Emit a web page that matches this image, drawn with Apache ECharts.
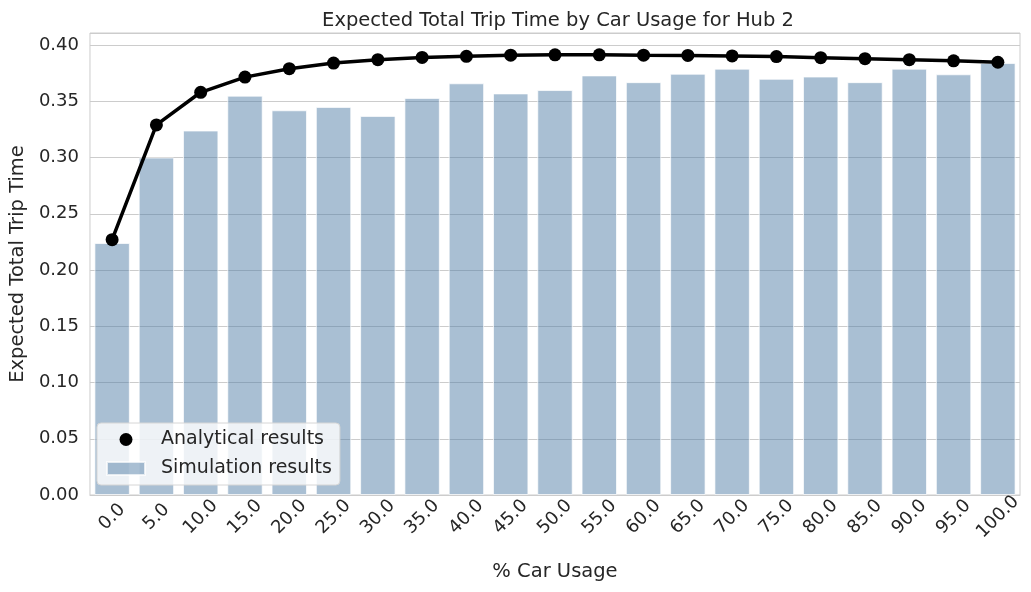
<!DOCTYPE html>
<html>
<head>
<meta charset="utf-8">
<script src="https://cdn.jsdelivr.net/npm/echarts@6/dist/echarts.min.js"></script>
<style>html,body{margin:0;padding:0;background:#fff}#c{width:1031px;height:592px}</style>
</head>
<body>
<div id="c"></div>
<script>
const categories = ['0.0','5.0','10.0','15.0','20.0','25.0','30.0','35.0','40.0','45.0','50.0','55.0','60.0','65.0','70.0','75.0','80.0','85.0','90.0','95.0','100.0'];
const simulation = [0.224,0.300,0.324,0.355,0.342,0.345,0.337,0.353,0.366,0.357,0.360,0.373,0.367,0.3745,0.379,0.370,0.372,0.367,0.379,0.374,0.384];
const analytical = [0.227,0.329,0.358,0.3715,0.379,0.384,0.387,0.389,0.390,0.391,0.3913,0.3913,0.391,0.3908,0.3903,0.3897,0.3888,0.3879,0.387,0.386,0.3847];

const font = 'DejaVu Sans';
const txt = '#262626';
const chart = echarts.init(document.getElementById('c'), null, {renderer:'canvas'});
chart.setOption({
  backgroundColor:'#ffffff',
  animation:false,
  title:{text:'Expected Total Trip Time by Car Usage for Hub 2', left:553, textAlign:'center', top:6,
    textStyle:{fontFamily:font, fontSize:19.5, fontWeight:'normal', color:txt}},
  grid:{left:88, right:11, top:33, bottom:97, show:true, borderColor:'#cccccc', borderWidth:1, backgroundColor:'transparent'},
  legend:{
    orient:'vertical', left:97, top:423,
    backgroundColor:'rgba(255,255,255,0.8)', borderColor:'#d6d6d6', borderWidth:1, borderRadius:4,
    padding:[7,8,7,9], itemGap:10, itemWidth:38, itemHeight:13,
    textStyle:{fontFamily:font, fontSize:19, color:txt, padding:[0,0,0,11]},
    data:[{name:'Analytical results', icon:'circle', itemStyle:{color:'#000'}}, {name:'Simulation results', icon:'rect'}]
  },
  xAxis:{
    type:'category', data:categories, boundaryGap:true,
    name:'% Car Usage', nameLocation:'middle', nameGap:67,
    nameTextStyle:{fontFamily:font, fontSize:19.5, color:txt},
    axisLine:{show:true, lineStyle:{color:'#cccccc'}}, axisTick:{show:false},
    axisLabel:{rotate:45, align:'center', verticalAlign:'middle', margin:22, fontFamily:font, fontSize:18, color:txt, interval:0},
    splitLine:{show:false}
  },
  yAxis:{
    type:'value', min:0, max:0.4107, interval:0.05,
    name:'Expected Total Trip Time', nameLocation:'middle', nameGap:59,
    nameTextStyle:{fontFamily:font, fontSize:19.5, color:txt},
    axisLine:{show:false}, axisTick:{show:false},
    axisLabel:{showMaxLabel:false, fontFamily:font, fontSize:18, color:txt, margin:11, formatter:v=>v.toFixed(2)},
    splitLine:{show:true, lineStyle:{color:'#cccccc', width:1}}
  },
  series:[
    {name:'Simulation results', type:'bar', data:simulation, barWidth:'80%',
     itemStyle:{color:'rgba(79,124,166,0.49)', borderColor:'rgba(255,255,255,0.7)', borderWidth:1}, z:2},
    {name:'Analytical results', type:'line', data:analytical, symbol:'circle', symbolSize:13,
     lineStyle:{color:'#000', width:3.5}, itemStyle:{color:'#000'}, z:3}
  ]
});
</script>
</body>
</html>
